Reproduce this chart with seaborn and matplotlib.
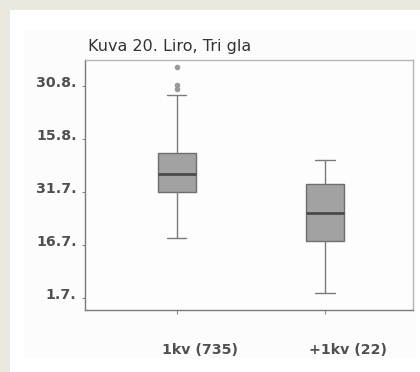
import numpy as np
import pandas as pd
import matplotlib
matplotlib.use("Agg")
import matplotlib.pyplot as plt
import matplotlib.transforms as mtransforms
from matplotlib.patches import Rectangle
import seaborn as sns

# Days after 1 July
group_labels = ["1kv (735)", "+1kv (22)"]
values_1kv = [17.1, 22.0, 26.0, 28.5, 30.1, 31.5, 33.0, 34.3, 35.3,
              36.5, 38.5, 40.0, 41.2, 57.7, 59.2, 60.3, 65.4]
values_plus1kv = [1.4, 9.0, 16.2, 20.0, 24.2, 28.0, 32.4, 36.0, 39.2]
ytick_values = [0, 15, 30, 45, 60]
ytick_labels = ["1.7.", "16.7.", "31.7.", "15.8.", "30.8."]
title = "Kuva 20. Liro, Tri gla"

df = pd.DataFrame({
    "group": [group_labels[0]] * len(values_1kv) + [group_labels[1]] * len(values_plus1kv),
    "day": values_1kv + values_plus1kv,
})

sns.set_theme(style="white")
plt.rcParams["font.family"] = ["DejaVu Sans"]

fig = plt.figure(figsize=(4.2, 3.72), dpi=100)
fig.patch.set_facecolor("#EBE9DF")
fig.patches.append(Rectangle((10 / 420, 0), 1, 1 - 10 / 372, transform=fig.transFigure,
                             facecolor="white", edgecolor="none", zorder=-2))
fig.patches.append(Rectangle((24 / 420, 14 / 372), (416 - 24) / 420, (343 - 14) / 372,
                             transform=fig.transFigure, facecolor="#FCFCFC",
                             edgecolor="none", zorder=-1))

ax = fig.add_axes([85 / 420, 1 - 310 / 372, (413 - 85) / 420, (310 - 60) / 372])
ax.set_facecolor("#FDFDFD")

sns.boxplot(data=df, x="group", y="day", order=group_labels, ax=ax, width=0.26,
            color="#A2A2A2", saturation=1, linewidth=1.0, linecolor="#6E6E6E",
            whis=1.5,
            medianprops=dict(color="#4A4A4A", linewidth=2.0),
            whiskerprops=dict(color="#7A7A7A", linewidth=1.0),
            capprops=dict(color="#7A7A7A", linewidth=1.0),
            flierprops=dict(marker="o", markersize=3, markerfacecolor="#9A9A9A",
                            markeredgecolor="#9A9A9A"))

ax.set_xlim(-0.62, 1.595)
ax.set_ylim(-3.4, 67.5)
ax.set_yticks(ytick_values)
ax.set_yticklabels(ytick_labels)
ax.set_xlabel("")
ax.set_ylabel("")

for s in ["left", "bottom"]:
    ax.spines[s].set_color("#7A7A7A")
    ax.spines[s].set_linewidth(1.0)
for s in ["top", "right"]:
    ax.spines[s].set_color("#B5B5B5")
    ax.spines[s].set_linewidth(1.0)

ax.tick_params(axis="y", which="both", left=True, length=2, width=0.8, color="#888888",
               labelsize=10.2, labelcolor="#505050", pad=4)
ax.tick_params(axis="x", which="both", bottom=True, length=3, width=0.8, color="#888888",
               labelsize=10.2, labelcolor="#505050", pad=21)
for lbl in ax.get_yticklabels():
    lbl.set_fontweight("bold")
    lbl.set_transform(lbl.get_transform() + mtransforms.ScaledTranslation(0, 5 / 100, fig.dpi_scale_trans))
offset = mtransforms.ScaledTranslation(23 / 100, 0, fig.dpi_scale_trans)
for lbl in ax.get_xticklabels():
    lbl.set_fontweight("bold")
    lbl.set_transform(lbl.get_transform() + offset)

fig.text(88 / 420, 1 - 47 / 372, title, ha="left", va="center", fontsize=11.5, color="#333333")

fig.savefig("out.png", dpi=100, facecolor=fig.get_facecolor())
